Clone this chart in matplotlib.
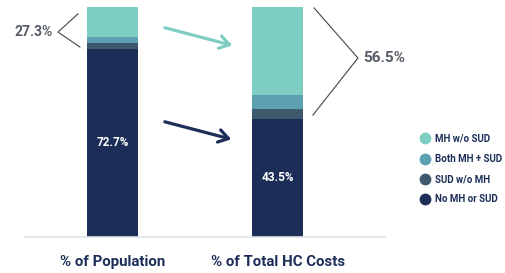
import matplotlib.pyplot as plt
from matplotlib.lines import Line2D

# bar groups and stacked segments (share of bar height, as drawn)
groups = ['% of Population', '% of Total HC Costs']
segments = ['No MH or SUD', 'SUD w/o MH', 'Both MH + SUD', 'MH w/o SUD']
no_mh_sud = [81.6, 51.2]
sud_wo_mh = [2.9, 4.3]
both_mh_sud = [2.3, 6.2]
mh_wo_sud = [13.2, 38.3]
inside_labels = ['72.7%', '43.5%']
bracket_labels = ['27.3%', '56.5%']

colors = ['#1c2e58', '#3e586e', '#5ca0b2', '#7ecec3']
navy = '#1c2e58'
grey = '#555b66'

plt.rcParams['font.family'] = ['Roboto', 'DejaVu Sans']

fig = plt.figure(figsize=(5.06, 2.73), dpi=100)
ax = fig.add_axes([25 / 506, 36 / 273, 360 / 506, 230 / 273])

x = [0, 1]
bottom = [0, 0]
for vals, col in zip([no_mh_sud, sud_wo_mh, both_mh_sud, mh_wo_sud], colors):
    ax.bar(x, vals, width=0.31, bottom=bottom, color=col, linewidth=0)
    bottom = [b + v for b, v in zip(bottom, vals)]

ax.set_xlim(-0.532, 1.65)
ax.set_ylim(0, 100)
for s in ['top', 'right', 'left']:
    ax.spines[s].set_visible(False)
ax.spines['bottom'].set_color('#dde2ea')
ax.spines['bottom'].set_linewidth(1.2)
ax.set_yticks([])
ax.set_xticks(x)
ax.set_xticklabels(groups, fontsize=10.8, fontweight='bold', color=navy)
ax.tick_params(axis='x', length=0, pad=13)

# labels inside the navy segments
ax.text(0, 40.9, inside_labels[0], ha='center', va='center', color='white',
        fontsize=8.5, fontweight='bold')
ax.text(1, 25.7, inside_labels[1], ha='center', va='center', color='white',
        fontsize=8.5, fontweight='bold')

# brackets
ax.plot([-0.211, -0.332, -0.199], [97.0, 89.1, 82.6], color='#444444',
        lw=0.8, clip_on=False)
ax.text(-0.362, 89.1, bracket_labels[0], ha='right', va='center', color=grey,
        fontsize=10, fontweight='bold')
ax.plot([1.220, 1.486, 1.213], [99.6, 77.8, 53.0], color='#444444',
        lw=0.8, clip_on=False)
ax.text(1.52, 77.8, bracket_labels[1], ha='left', va='center', color=grey,
        fontsize=11, fontweight='bold')

# arrows
ax.annotate('', xy=(0.741, 83.0), xytext=(0.299, 91.3),
            arrowprops=dict(arrowstyle='->,head_length=0.7,head_width=0.45',
                            color=colors[3], lw=2.3))
ax.annotate('', xy=(0.735, 42.2), xytext=(0.299, 50.4),
            arrowprops=dict(arrowstyle='->,head_length=0.7,head_width=0.45',
                            color=navy, lw=2.3))

# legend
handles = [Line2D([0], [0], marker='o', color='none', markerfacecolor=c,
                  markeredgecolor='none', markersize=8.5)
           for c in colors[::-1]]
fig.legend(handles, segments[::-1], loc='upper left',
           bbox_to_anchor=(410 / 506, 1 - 125 / 273), frameon=False,
           labelspacing=1.05, handletextpad=0.5, handlelength=1.2,
           prop={'size': 7, 'weight': 'bold'}, labelcolor=navy)

fig.savefig('out.png', dpi=100)
